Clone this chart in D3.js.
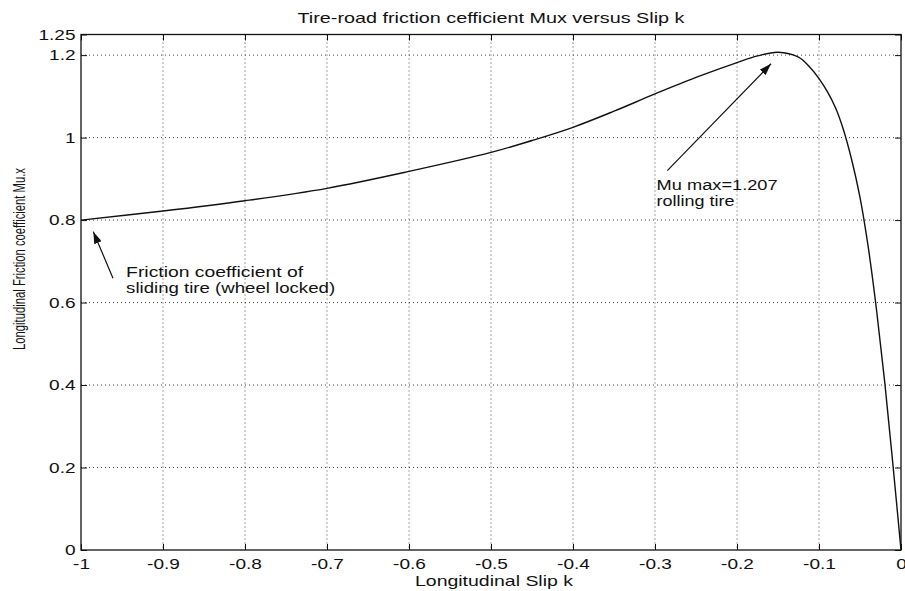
<!DOCTYPE html>
<html>
<head>
<meta charset="utf-8">
<script src="https://cdn.jsdelivr.net/npm/d3@7"></script>
<style>
  body { margin: 0; background: #fff; }
  text { font-family: "Liberation Sans", Arial, Helvetica, sans-serif; fill: #111; }
  .grid line { stroke: #444; stroke-width: 1; stroke-dasharray: 1,3; }
</style>
</head>
<body>
<svg id="chart" width="905" height="591"></svg>
<script>
// slip k and friction coefficient
var slip = [-1, -0.9, -0.8, -0.7, -0.6, -0.5, -0.45, -0.4, -0.35, -0.3, -0.25, -0.2, -0.175, -0.15,
            -0.125, -0.11, -0.1, -0.09, -0.08, -0.07, -0.06, -0.05, -0.04, -0.03, -0.02, -0.01, 0];
var mux = [0.80, 0.822, 0.847, 0.877, 0.918, 0.964, 0.993, 1.025, 1.064, 1.106, 1.146, 1.182, 1.198, 1.207,
           1.195, 1.168, 1.143, 1.112, 1.073, 1.018, 0.945, 0.855, 0.735, 0.585, 0.41, 0.21, 0.0];

var xTicks = [-1, -0.9, -0.8, -0.7, -0.6, -0.5, -0.4, -0.3, -0.2, -0.1, 0];
var yTicks = [0, 0.2, 0.4, 0.6, 0.8, 1, 1.2, 1.25];

var title = "Tire-road friction cefficient Mux versus Slip k";
var xLabel = "Longitudinal Slip k";
var yLabel = "Longitudinal Friction coefficient Mu.x";

// annotations: text lines + arrow (tail -> tip), in data units
var notes = [
  { lines: ["Mu max=1.207", "rolling tire"], k: -0.298, mu: 0.872, widths: [121, 78],
    tail: [-0.285, 0.920], tip: [-0.1585, 1.179] },
  { lines: ["Friction coefficient of", "sliding tire (wheel locked)"], k: -0.945, mu: 0.663, widths: [177, 209],
    tail: [-0.961, 0.659], tip: [-0.985, 0.772] }
];

(function() {
  var svg = d3.select("#chart"),
      pl = 81, pr = 901, pt = 34.5, pb = 550,
      sx = 1.27;

  var x = d3.scaleLinear().domain([-1, 0]).range([pl, pr]);
  var y = d3.scaleLinear().domain([0, 1.25]).range([pb, pt]);

  // grid
  var grid = svg.append("g").attr("class", "grid");
  grid.selectAll(".gx").data(xTicks.slice(1, -1)).enter().append("line")
    .attr("x1", function(d) { return x(d); }).attr("x2", function(d) { return x(d); })
    .attr("y1", pt).attr("y2", pb);
  grid.selectAll(".gy").data(yTicks.slice(1, -1)).enter().append("line")
    .attr("y1", function(d) { return y(d); }).attr("y2", function(d) { return y(d); })
    .attr("x1", pl).attr("x2", pr);

  // axes with inward ticks on all four sides
  var fmt = function(d) { return String(d); };
  svg.append("g").attr("transform", "translate(0," + pb + ")")
    .call(d3.axisBottom(x).tickValues(xTicks).tickSize(-6).tickFormat(fmt))
    .call(function(g) {
      g.select(".domain").remove();
      g.selectAll(".tick text").attr("font-size", 15).attr("dy", null).attr("y", 19)
        .attr("transform", "scale(" + sx + ",1)");
    });
  svg.append("g").attr("transform", "translate(0," + pt + ")")
    .call(d3.axisTop(x).tickValues(xTicks).tickSize(-6).tickFormat(""))
    .call(function(g) { g.select(".domain").remove(); });
  svg.append("g").attr("transform", "translate(" + pl + ",0)")
    .call(d3.axisLeft(y).tickValues(yTicks).tickSize(-6).tickFormat(fmt))
    .call(function(g) {
      g.select(".domain").remove();
      g.selectAll(".tick text").attr("font-size", 15).attr("x", -5.5 / sx)
        .attr("transform", "scale(" + sx + ",1)");
    });
  svg.append("g").attr("transform", "translate(" + pr + ",0)")
    .call(d3.axisRight(y).tickValues(yTicks).tickSize(-6).tickFormat(""))
    .call(function(g) { g.select(".domain").remove(); });
  svg.selectAll(".tick line").attr("stroke", "#111");

  // box
  svg.append("rect").attr("x", pl).attr("y", pt)
    .attr("width", pr - pl).attr("height", pb - pt)
    .attr("fill", "none").attr("stroke", "#111").attr("stroke-width", 1.3);

  // curve
  var line = d3.line()
    .x(function(d, i) { return x(slip[i]); })
    .y(function(d) { return y(d); })
    .curve(d3.curveCatmullRom.alpha(0.5));
  svg.append("path").datum(mux)
    .attr("fill", "none").attr("stroke", "#111").attr("stroke-width", 1.4)
    .attr("d", line);

  // arrows
  svg.append("defs").append("marker")
    .attr("id", "head").attr("viewBox", "0 0 12 8").attr("refX", 12).attr("refY", 4)
    .attr("markerWidth", 12).attr("markerHeight", 8).attr("markerUnits", "userSpaceOnUse")
    .attr("orient", "auto")
    .append("path").attr("d", "M0,0L12,4L0,8Z").attr("fill", "#111");

  notes.forEach(function(n) {
    svg.append("line")
      .attr("x1", x(n.tail[0])).attr("y1", y(n.tail[1]))
      .attr("x2", x(n.tip[0])).attr("y2", y(n.tip[1]))
      .attr("stroke", "#111").attr("stroke-width", 1.2)
      .attr("marker-end", "url(#head)");
    n.lines.forEach(function(s, i) {
      svg.append("text")
        .attr("x", x(n.k)).attr("y", y(n.mu) + i * 16)
        .attr("font-size", 15.5)
        .attr("textLength", n.widths[i]).attr("lengthAdjust", "spacingAndGlyphs")
        .text(s);
    });
  });

  // title and labels
  svg.append("text").attr("x", (pl + pr) / 2).attr("y", 23)
    .attr("text-anchor", "middle").attr("font-size", 15)
    .attr("textLength", 387).attr("lengthAdjust", "spacingAndGlyphs")
    .text(title);
  svg.append("text").attr("x", 494).attr("y", 586)
    .attr("text-anchor", "middle").attr("font-size", 15)
    .attr("textLength", 158).attr("lengthAdjust", "spacingAndGlyphs")
    .text(xLabel);
  svg.append("text")
    .attr("transform", "translate(25,259) scale(1.4,1) rotate(-90)")
    .attr("text-anchor", "middle").attr("font-size", 11.5)
    .attr("textLength", 182).attr("lengthAdjust", "spacingAndGlyphs")
    .text(yLabel);
})();
</script>
</body>
</html>
